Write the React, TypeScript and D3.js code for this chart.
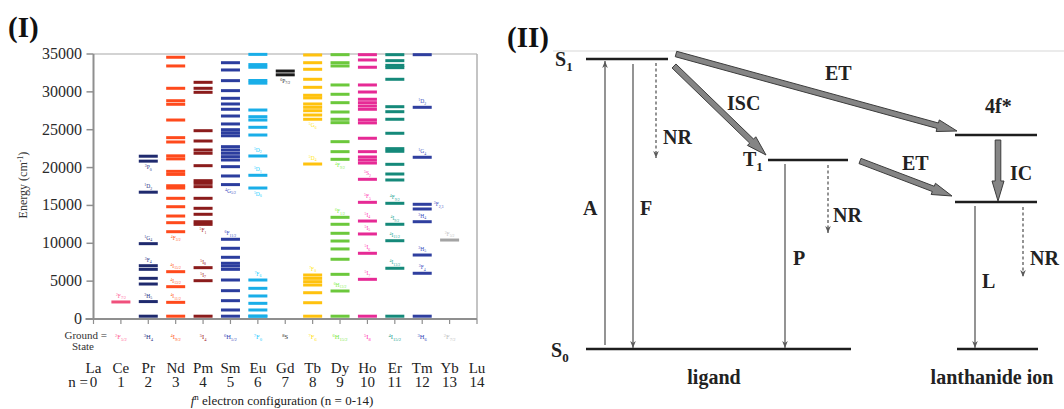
import React from "react";
import * as d3 from "d3";

// ---------- Panel (I): lanthanide 4f energy levels ----------
const ELEMENTS = ["La", "Ce", "Pr", "Nd", "Pm", "Sm", "Eu", "Gd", "Tb", "Dy", "Ho", "Er", "Tm", "Yb", "Lu"];
const N_LABELS = ["0", "1", "2", "3", "4", "5", "6", "7", "8", "9", "10", "11", "12", "13", "14"];
const ENERGY_TICKS = [0, 5000, 10000, 15000, 20000, 25000, 30000, 35000];
const GROUND_STATES = ["", "2F5/2", "3H4", "4I9/2", "5I4", "6H5/2", "7F0", "8S", "7F6", "6H15/2", "5I8", "4I15/2", "3H6", "2F7/2", ""];
const ION_COLORS = ["#000", "#f0507c", "#1f2a6e", "#ff4a1c", "#8b1c1c", "#2b3d9e", "#19aee8", "#1a1a1a", "#ffc20e", "#6cc83c", "#e62a95", "#15897a", "#2f3f9f", "#a3a3a3", "#000"];

// energy levels in cm^-1
const laLevels: number[] = [];
const ceLevels = [2250];
const prLevels = [0, 2300, 4620, 5370, 6560, 7040, 9950, 16750, 20850, 21500];
const ndLevels = [0, 2200, 4270, 6250, 11530, 12720, 13600, 14830, 15940, 17300, 17600, 19100, 19500, 21150, 21550, 23380, 23950, 26280, 28360, 28830, 30470, 33420, 34570];
const pmLevels = [0, 5060, 6780, 12500, 12850, 13830, 14620, 15940, 17480, 17920, 18270, 20250, 21890, 22320, 23510, 24870, 29940, 30470, 31260];
const smLevels = [0, 1190, 2420, 3740, 5150, 6560, 7000, 7360, 8150, 9340, 10530, 17750, 18890, 20120, 21000, 21440, 21890, 22320, 22760, 24200, 24600, 25000, 25760, 26810, 27700, 28400, 29150, 30160, 31480, 32890, 33850];
const euLevels = [0, 380, 1190, 2070, 3040, 4050, 5150, 17300, 18980, 21530, 24300, 25320, 26280, 26720, 27600, 31150, 31500, 33250, 33600, 34950];
const gdLevels = [32250, 32750];
const tbLevels = [0, 2150, 3470, 4490, 4930, 5370, 5810, 20470, 26380, 26940, 27510, 27960, 28400, 29200, 29550, 30600, 31660, 32980, 33850, 34870];
const dyLevels = [0, 3700, 5900, 7890, 9250, 10300, 11320, 12510, 13430, 21090, 22100, 23420, 25930, 26380, 27340, 28570, 29680, 30910, 33420, 33850, 34910];
const hoLevels = [0, 5240, 8680, 11230, 12940, 15410, 18450, 20600, 21000, 21400, 22100, 23870, 25900, 26300, 27700, 28130, 28570, 29020, 29980, 30910, 33250, 34210, 34910];
const erLevels = [0, 6700, 10340, 12510, 15280, 18360, 19150, 20430, 22150, 22500, 24530, 26380, 27380, 28040, 31660, 33200, 33500, 34120, 34910];
const tmLevels = [0, 6040, 8450, 12850, 14530, 15150, 21360, 27960, 34910];
const ybLevels = [10430];
const luLevels: number[] = [];
const LEVELS = [laLevels, ceLevels, prLevels, ndLevels, pmLevels, smLevels, euLevels, gdLevels, tbLevels, dyLevels, hoLevels, erLevels, tmLevels, ybLevels, luLevels];

// term symbols attached to levels: [energy, term, side]
type Term = [number, string, "a" | "b" | "r"];
const ceTerms: Term[] = [[2250, "2F7/2", "a"]];
const prTerms: Term[] = [[20850, "3P0", "b"], [16750, "1D2", "a"], [9950, "1G4", "a"], [7040, "3F4", "a"], [2300, "3H5", "a"]];
const ndTerms: Term[] = [[11530, "4F3/2", "b"], [6250, "4I15/2", "a"], [4270, "4I13/2", "a"], [2200, "4I11/2", "a"]];
const pmTerms: Term[] = [[12500, "5F1", "b"], [6780, "5I8", "a"], [5060, "5I7", "a"]];
const smTerms: Term[] = [[17750, "4G5/2", "b"], [10530, "6F11/2", "a"]];
const euTerms: Term[] = [[21530, "5D2", "a"], [18980, "5D1", "a"], [17300, "5D0", "b"], [5150, "7F6", "a"]];
const gdTerms: Term[] = [[32250, "6P7/2", "b"]];
const tbTerms: Term[] = [[26380, "5G6", "b"], [20470, "5D4", "a"], [5810, "7F0", "a"]];
const dyTerms: Term[] = [[21090, "4F9/2", "b"], [13430, "6F1/2", "a"], [3700, "6H13/2", "a"]];
const hoTerms: Term[] = [[18450, "5S2", "a"], [15410, "5F5", "a"], [12940, "5I4", "a"], [11230, "5I5", "a"], [8680, "5I6", "a"], [5240, "5I7", "a"]];
const erTerms: Term[] = [[15280, "4F9/2", "a"], [12510, "4I9/2", "a"], [10340, "4I11/2", "a"], [6700, "4I13/2", "a"]];
const tmTerms: Term[] = [[27960, "1D2", "a"], [21360, "1G4", "a"], [15150, "3F2,3", "r"], [12850, "3H4", "a"], [8450, "3H5", "a"], [6040, "3F4", "a"]];
const ybTerms: Term[] = [[10430, "2F5/2", "a"]];
const TERMS: Term[][] = [[], ceTerms, prTerms, ndTerms, pmTerms, smTerms, euTerms, gdTerms, tbTerms, dyTerms, hoTerms, erTerms, tmTerms, ybTerms, []];

const SERIF = "'Liberation Serif', 'Times New Roman', serif";

const x = d3.scaleLinear().domain([0, 14]).range([93.5, 477]);
const y = d3.scaleLinear().domain([0, 35000]).range([319, 54]);

function TermText({ term, px, py, size, color, anchor = "middle" }: { term: string; px: number; py: number; size: number; color: string; anchor?: string }) {
  const m = term.match(/^(\d)([A-Z])(.*)$/);
  if (!m) return null;
  const small = size * 0.7;
  return (
    <text x={px} y={py} fontSize={size} fill={color} textAnchor={anchor} fontFamily={SERIF}>
      <tspan fontSize={small} dy={-size * 0.35}>{m[1]}</tspan>
      <tspan dy={size * 0.35}>{m[2]}</tspan>
      {m[3] ? <tspan fontSize={small} dy={size * 0.25}>{m[3]}</tspan> : null}
    </text>
  );
}

function PanelI() {
  const base = y(0);
  const halfW = 9.5;
  return (
    <g>
      <text x={8} y={37} fontSize={29} fontWeight="bold" fontFamily={SERIF} fill="#111">(I)</text>

      {/* frame */}
      <line x1={x(0)} x2={x(14)} y1={y(35000)} y2={y(35000)} stroke="#c4c4c4" strokeWidth={1.5} />
      <line x1={x(14)} x2={x(14)} y1={y(35000)} y2={base} stroke="#b0b0b0" strokeWidth={1.5} />

      {/* energy levels */}
      {LEVELS.map((lv, i) =>
        lv.map((e, k) => {
          const cy = Math.min(y(e), base - 2.8);
          return (
            <rect key={`${i}-${k}`} x={x(i) - halfW} width={halfW * 2} y={cy - 1.5} height={3} fill={ION_COLORS[i]} />
          );
        })
      )}

      {/* term symbols */}
      {TERMS.map((ts, i) =>
        ts.map(([e, t, side], k) => {
          const c = d3.color(ION_COLORS[i])!.brighter(0.5).formatHex();
          if (side === "r")
            return <TermText key={`t${i}-${k}`} term={t} px={x(i) + halfW + 2} py={y(e) + 2} size={5.5} color={c} anchor="start" />;
          return <TermText key={`t${i}-${k}`} term={t} px={x(i)} py={side === "a" ? y(e) - 4 : y(e) + 8} size={5.5} color={c} />;
        })
      )}

      {/* axes */}
      <line x1={x(0)} x2={x(0)} y1={y(35000)} y2={base} stroke="#8f8f8f" strokeWidth={2} />
      <line x1={x(0) - 8} x2={x(14)} y1={base} y2={base} stroke="#8f8f8f" strokeWidth={2} />
      {ENERGY_TICKS.map((t) => (
        <g key={t}>
          <line x1={x(0) - 7} x2={x(0)} y1={y(t)} y2={y(t)} stroke="#8f8f8f" strokeWidth={1.5} />
          <text x={82} y={y(t) + 5} fontSize={16} textAnchor="end" fontFamily={SERIF} fill="#2a2a2a">{t}</text>
        </g>
      ))}
      {N_LABELS.map((_, i) => (
        <line key={i} x1={x(i)} x2={x(i)} y1={base} y2={base + 5} stroke="#8f8f8f" strokeWidth={1.2} />
      ))}

      <text transform="translate(27,185) rotate(-90)" fontSize={12} textAnchor="middle" fontFamily={SERIF} fill="#333">
        Energy (cm<tspan fontSize={8} dy={-4}>-1</tspan><tspan dy={4}>)</tspan>
      </text>

      {/* ground states */}
      <text x={107} y={339} fontSize={11} textAnchor="end" fontFamily={SERIF} fill="#333">Ground =</text>
      <text x={83} y={350} fontSize={11} textAnchor="middle" fontFamily={SERIF} fill="#333">State</text>
      {GROUND_STATES.map((g, i) =>
        g ? <TermText key={`g${i}`} term={g} px={x(i)} py={339} size={6.5} color={d3.color(ION_COLORS[i])!.brighter(0.4).formatHex()} /> : null
      )}

      {/* element names and n */}
      {ELEMENTS.map((el, i) => (
        <text key={el} x={x(i)} y={373} fontSize={15} textAnchor="middle" fontFamily={SERIF} fill="#222">{el}</text>
      ))}
      <text x={88} y={387} fontSize={15} textAnchor="end" fontFamily={SERIF} fill="#222">n =</text>
      {N_LABELS.map((n, i) => (
        <text key={`n${n}`} x={x(i)} y={387} fontSize={15} textAnchor="middle" fontFamily={SERIF} fill="#222">{n}</text>
      ))}
      <text x={282} y={405} fontSize={13} textAnchor="middle" fontFamily={SERIF} fill="#222">
        <tspan fontStyle="italic">f</tspan>
        <tspan fontSize={9} dy={-5}>n</tspan>
        <tspan dy={5}> electron configuration (n = 0-14)</tspan>
      </text>
    </g>
  );
}

// ---------- Panel (II): energy-transfer scheme ----------
const LVL = "#1e1e1e";
const ARW = "#5a5a5a";
const B = { fontFamily: SERIF, fontWeight: "bold" as const, fill: "#222", fontSize: 20 };

function fatArrowPath(x1: number, y1: number, x2: number, y2: number, shaft = 2.8, head = 6, headLen = 20) {
  const dx = x2 - x1, dy = y2 - y1;
  const L = Math.hypot(dx, dy);
  const ux = dx / L, uy = dy / L;
  const nx = -uy, ny = ux;
  const bx = x2 - ux * headLen, by = y2 - uy * headLen;
  const pts = [
    [x1 + nx * shaft, y1 + ny * shaft],
    [bx + nx * shaft, by + ny * shaft],
    [bx + nx * head, by + ny * head],
    [x2, y2],
    [bx - nx * head, by - ny * head],
    [bx - nx * shaft, by - ny * shaft],
    [x1 - nx * shaft, y1 - ny * shaft],
  ];
  return "M" + pts.map((p) => p.join(",")).join("L") + "Z";
}

function PanelII() {
  const levels: [number, number, number][] = [
    [586, 668, 59],
    [768, 848, 160],
    [586, 851, 349],
    [955, 1037, 135],
    [955, 1037, 202],
    [957, 1038, 349],
  ];
  const solid: [number, number, number][] = [
    [605, 345, 61],
    [633, 64, 348],
    [785, 164, 348],
    [975, 206, 348],
  ];
  const dashed: [number, number, number][] = [
    [656, 63, 158],
    [828, 165, 233],
    [1023, 207, 277],
  ];
  const fat: [number, number, number, number][] = [
    [676, 54, 957, 131],
    [674, 66, 766, 155],
    [860, 161, 952, 196],
    [998, 140, 998, 201],
  ];
  return (
    <g>
      <defs>
        <marker id="hd" viewBox="0 0 10 10" refX={10} refY={5} markerWidth={7} markerHeight={7} markerUnits="userSpaceOnUse" orient="auto">
          <path d="M0,1 L10,5 L0,9 L3,5 Z" fill={ARW} />
        </marker>
      </defs>
      <line x1={553} x2={1064} y1={51} y2={51} stroke="#e4e4e4" strokeWidth={1.5} />
      <text x={507} y={47} fontSize={29} fontWeight="bold" fontFamily={SERIF} fill="#111">(II)</text>

      {levels.map(([a, b, yy], i) => (
        <line key={`l${i}`} x1={a} x2={b} y1={yy} y2={yy} stroke={LVL} strokeWidth={2.5} />
      ))}
      {solid.map(([xx, a, b], i) => (
        <line key={`s${i}`} x1={xx} x2={xx} y1={a} y2={b} stroke={ARW} strokeWidth={1.3} markerEnd="url(#hd)" />
      ))}
      {dashed.map(([xx, a, b], i) => (
        <line key={`d${i}`} x1={xx} x2={xx} y1={a} y2={b} stroke={ARW} strokeWidth={1.3} strokeDasharray="3,2.5" markerEnd="url(#hd)" />
      ))}
      {fat.map(([a, b, c, d], i) => (
        <path key={`f${i}`} d={fatArrowPath(a, b, c, d)} fill="#858585" stroke="#3c3c3c" strokeWidth={1} strokeLinejoin="miter" />
      ))}

      <text x={555} y={66} {...B}>S<tspan fontSize={13} dy={5}>1</tspan></text>
      <text x={551} y={357} {...B}>S<tspan fontSize={13} dy={5}>0</tspan></text>
      <text x={743} y={166} {...B}>T<tspan fontSize={13} dy={5}>1</tspan></text>
      <text x={583} y={215} {...B}>A</text>
      <text x={640} y={215} {...B}>F</text>
      <text x={663} y={144} {...B}>NR</text>
      <text x={727} y={110} {...B}>ISC</text>
      <text x={825} y={80} {...B}>ET</text>
      <text x={985} y={113} {...B}>4f*</text>
      <text x={902} y={170} {...B}>ET</text>
      <text x={1010} y={180} {...B}>IC</text>
      <text x={833} y={222} {...B}>NR</text>
      <text x={793} y={265} {...B}>P</text>
      <text x={982} y={288} {...B}>L</text>
      <text x={1030} y={265} {...B}>NR</text>
      <text x={714} y={384} {...B} textAnchor="middle">ligand</text>
      <text x={992} y={384} {...B} textAnchor="middle">lanthanide ion</text>
    </g>
  );
}

export default function App() {
  return (
    <svg width={1064} height={409} style={{ position: "absolute", left: 0, top: 0, display: "block" }}>
      <rect width={1064} height={409} fill="#fff" />
      <PanelI />
      <PanelII />
    </svg>
  );
}
